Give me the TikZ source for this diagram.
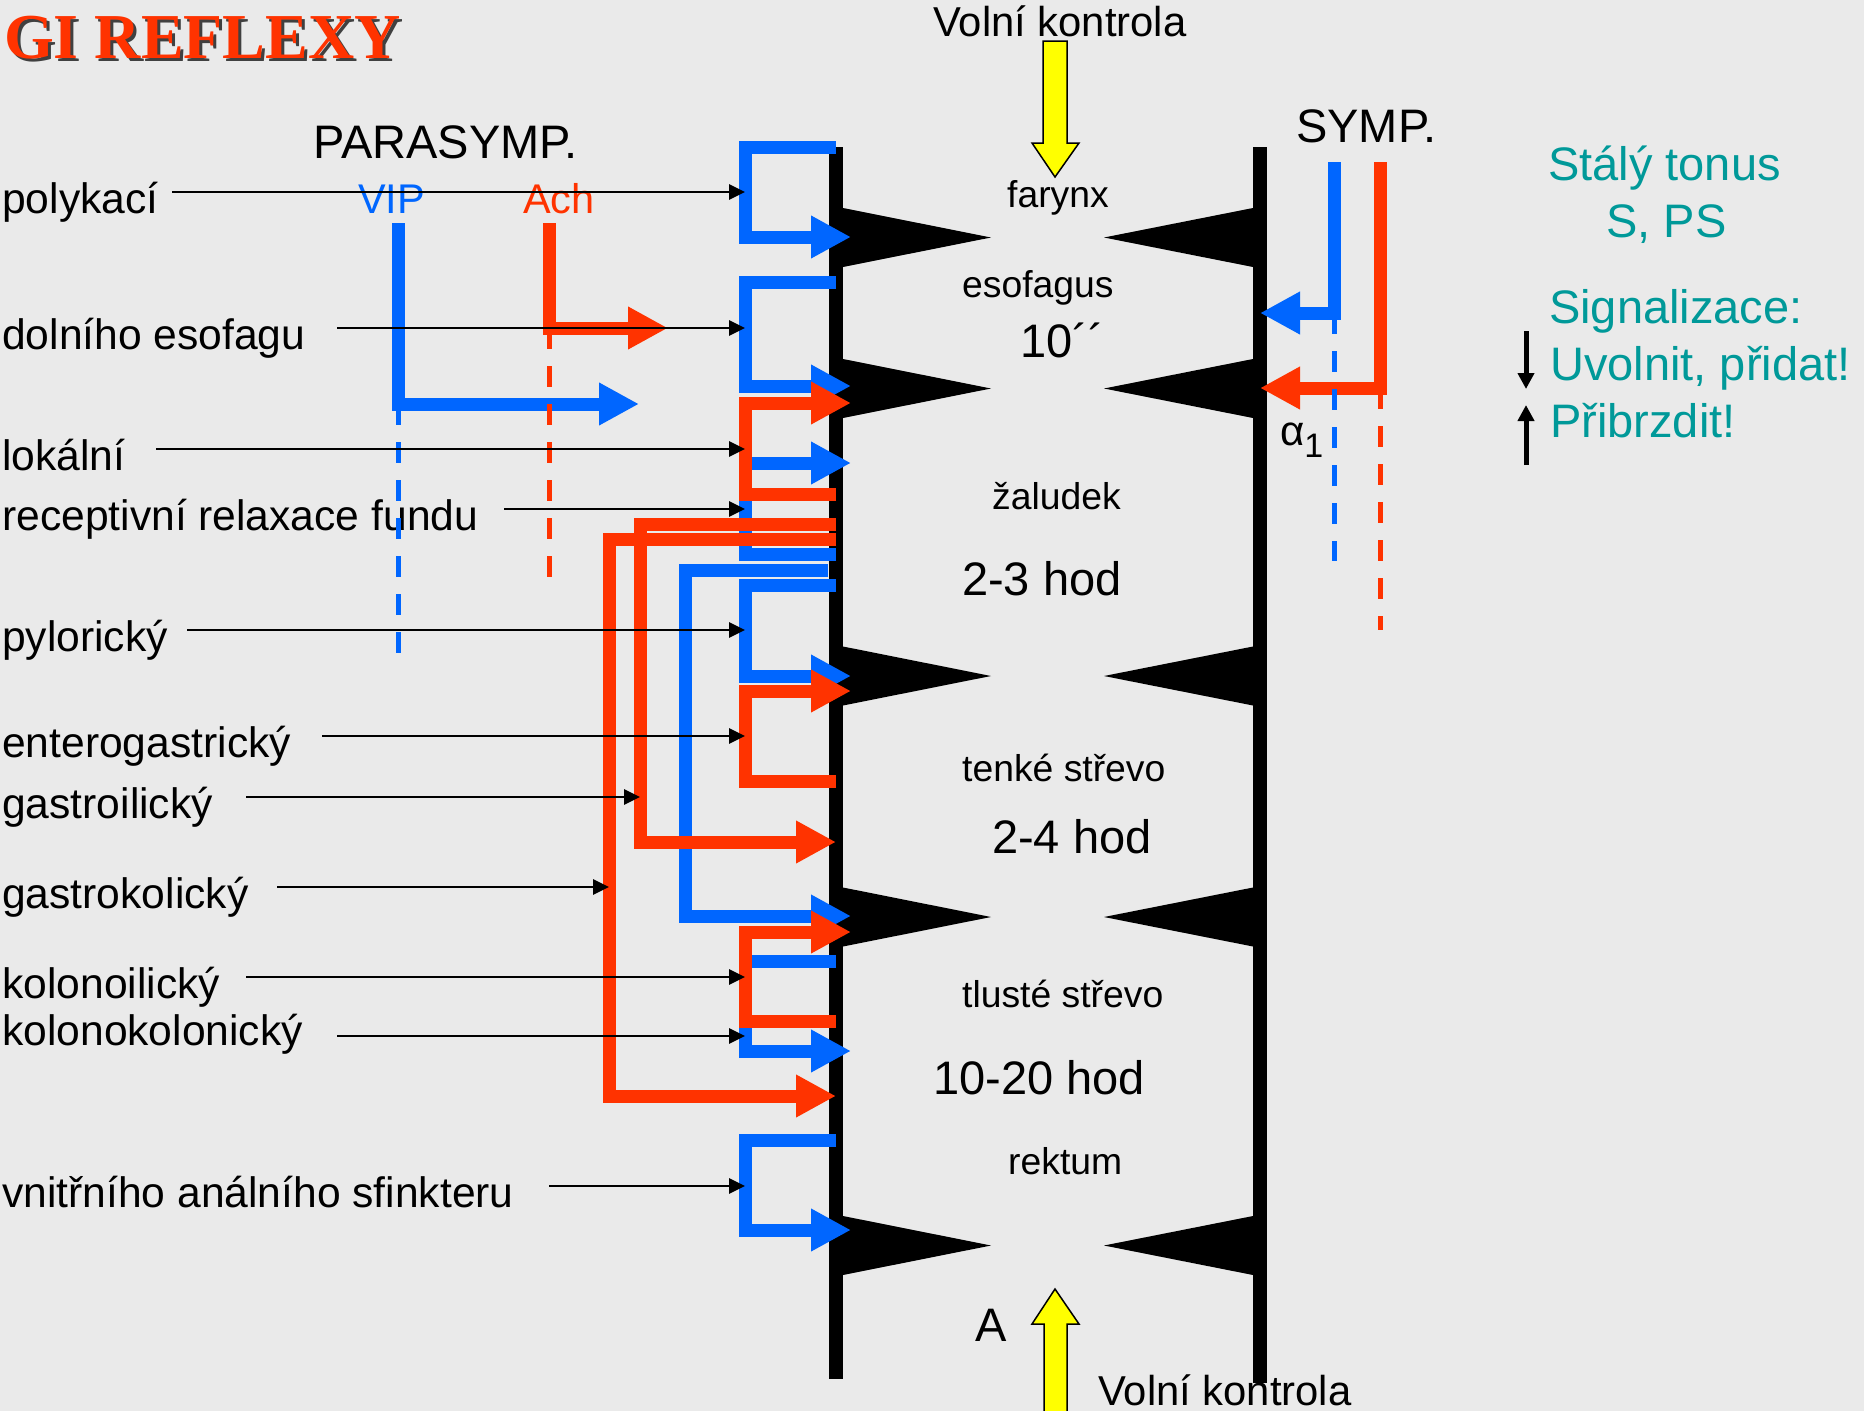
\documentclass[tikz,border=0pt]{standalone}
\usepackage{fontspec}
\setmainfont{Liberation Sans}
\newfontfamily\serifbf{Liberation Serif}
\usetikzlibrary{arrows.meta}
\definecolor{bg}{RGB}{234,234,234}
\definecolor{pblue}{RGB}{0,102,255}
\definecolor{pred}{RGB}{255,51,0}
\definecolor{tealc}{RGB}{0,153,153}
\definecolor{yel}{RGB}{255,255,0}
\begin{document}
\begin{tikzpicture}[x=1pt,y=-1pt,
  lbl/.style={anchor=base west,inner sep=0pt,font=\fontsize{42.6}{48}\selectfont},
  organ/.style={anchor=base west,inner sep=0pt,font=\fontsize{37.3}{44}\selectfont},
  tbig/.style={anchor=base west,inner sep=0pt,font=\fontsize{47}{52}\selectfont},
  teal/.style={anchor=base west,inner sep=0pt,text=tealc,font=\fontsize{47}{52}\selectfont},
  bl/.style={pblue,line width=13pt,line join=miter},
  rd/.style={pred,line width=13pt,line join=miter},
  big/.style={-{Triangle[length=40pt,width=40pt]}},
  ptr/.style={black,line width=2.7pt,-{Triangle[length=16pt,width=15pt]}},
  sig/.style={black,line width=5pt,-{Triangle[length=16pt,width=16pt]}},
  dsh/.style={line width=5pt,dash pattern=on 21pt off 17pt},
  yarrow/.style={fill=yel,draw=black,line width=1.5pt,line join=miter},
]
\fill[bg] (0,0) rectangle (1864,1411);
\useasboundingbox (0,0) rectangle (1864,1411);

% walls
\fill (829,147) rectangle (843,1379);
\fill (1253,147) rectangle (1267,1383);
\foreach \yc in {237.5,388.5,676,917,1245.5}{
  \fill (843,{\yc-29.5}) -- (991,\yc) -- (843,{\yc+29.5}) -- cycle;
  \fill (1253,{\yc-29.5}) -- (1104,\yc) -- (1253,{\yc+29.5}) -- cycle;
}

% title
\node[anchor=base west,inner sep=0pt,text=black!75,font=\serifbf\bfseries\fontsize{64}{70}\selectfont] (titsh) at (7,61) {GI REFLEXY};
\node[anchor=base west,inner sep=0pt,text=pred,font=\serifbf\bfseries\fontsize{64}{70}\selectfont] (tit) at (4,58) {GI REFLEXY};

% headers
\node[tbig] (para) at (313,158) {PARASYMP.};
\node[lbl,text=pblue,font=\fontsize{41.5}{48}\selectfont] (vip) at (358,213) {VIP};
\node[lbl,text=pred,font=\fontsize{41.5}{48}\selectfont] (ach) at (523,213) {Ach};
\node[tbig] (symp) at (1296,142) {SYMP.};
\node[lbl,font=\fontsize{41.8}{48}\selectfont] (vk1) at (933,36) {Volní kontrola};
\node[lbl,font=\fontsize{41.8}{48}\selectfont] (vk2) at (1098,1405) {Volní kontrola};
\node[tbig] (aa) at (975,1341) {A};
\node[anchor=base west,inner sep=0pt,font=\fontsize{42}{48}\selectfont] (alpha) at (1280,445) {α\raisebox{-12pt}{\fontsize{34}{40}\selectfont 1}};

% organ labels
\node[organ] (far) at (1007,207) {farynx};
\node[organ] (eso) at (962,297) {esofagus};
\node[tbig] (t1) at (1020,357) {10´´};
\node[organ] (zal) at (992,509) {žaludek};
\node[tbig] (t2) at (962,595) {2-3 hod};
\node[organ] (ten) at (962,781) {tenké střevo};
\node[tbig] (t3) at (992,853) {2-4 hod};
\node[organ] (tlu) at (962,1007) {tlusté střevo};
\node[tbig] (t4) at (933,1094) {10-20 hod};
\node[organ] (rek) at (1008,1174) {rektum};

% right teal text
\node[teal] (st1) at (1548,180) {Stálý tonus};
\node[teal] (st2) at (1606,237) {S, PS};
\node[teal] (sg1) at (1549,323) {Signalizace:};
\node[teal] (sg2) at (1550,380) {Uvolnit, přidat!};
\node[teal] (sg3) at (1550,437) {Přibrzdit!};

% reflex labels
\node[lbl] (l1) at (2,213) {polykací};
\node[lbl] (l2) at (2,349) {dolního esofagu};
\node[lbl] (l3) at (2,470) {lokální};
\node[lbl] (l4) at (2,530) {receptivní relaxace fundu};
\node[lbl] (l5) at (2,651) {pylorický};
\node[lbl] (l6) at (2,757) {enterogastrický};
\node[lbl] (l7) at (2,818) {gastroilický};
\node[lbl] (l8) at (2,908) {gastrokolický};
\node[lbl] (l9) at (2,998) {kolonoilický};
\node[lbl] (l10) at (2,1045) {kolonokolonický};
\node[lbl] (l11) at (2,1207) {vnitřního análního sfinkteru};

% yellow arrows
\draw[yarrow] (1043,41) -- (1067,41) -- (1067,143) -- (1079,143) -- (1055,177) -- (1032,143) -- (1043,143) -- cycle;
\draw[yarrow] (1044,1425) -- (1044,1324) -- (1032,1324) -- (1055,1289) -- (1079,1324) -- (1067,1324) -- (1067,1425) -- cycle;

% ---- blue loops
\coordinate (a1) at (836,147); \coordinate (a2) at (745,147); \coordinate (a3) at (745,237); \coordinate (a4) at (851,237);
\draw[bl,big] (a1) -- (a2) -- (a3) -- (a4);
\coordinate (b1) at (836,282); \coordinate (b2) at (745,282); \coordinate (b3) at (745,386); \coordinate (b4) at (851,386);
\draw[bl,big] (b1) -- (b2) -- (b3) -- (b4);
\coordinate (c1) at (836,554); \coordinate (c2) at (745,554); \coordinate (c3) at (745,463); \coordinate (c4) at (851,463);
\draw[bl,big] (c1) -- (c2) -- (c3) -- (c4);
\coordinate (g1) at (828,570); \coordinate (g2) at (685,570); \coordinate (g3) at (685,916); \coordinate (g4) at (851,916);
\draw[bl,big] (g1) -- (g2) -- (g3) -- (g4);
\coordinate (h1) at (836,585); \coordinate (h2) at (745,585); \coordinate (h3) at (745,676); \coordinate (h4) at (851,676);
\draw[bl,big] (h1) -- (h2) -- (h3) -- (h4);
\coordinate (k1) at (836,961); \coordinate (k2) at (745,961); \coordinate (k3) at (745,1051); \coordinate (k4) at (851,1051);
\draw[bl,big] (k1) -- (k2) -- (k3) -- (k4);
\coordinate (m1) at (836,1140); \coordinate (m2) at (745,1140); \coordinate (m3) at (745,1230); \coordinate (m4) at (851,1230);
\draw[bl,big] (m1) -- (m2) -- (m3) -- (m4);

% ---- red loops
\coordinate (d1) at (836,494); \coordinate (d2) at (745,494); \coordinate (d3) at (745,403); \coordinate (d4) at (851,403);
\draw[rd,big] (d1) -- (d2) -- (d3) -- (d4);
\coordinate (e1) at (836,524); \coordinate (e2) at (640,524); \coordinate (e3) at (640,842); \coordinate (e4) at (836,842);
\draw[rd,big] (e1) -- (e2) -- (e3) -- (e4);
\coordinate (f1) at (836,539); \coordinate (f2) at (609,539); \coordinate (f3) at (609,1096); \coordinate (f4) at (836,1096);
\draw[rd,big] (f1) -- (f2) -- (f3) -- (f4);
\coordinate (i1) at (836,781); \coordinate (i2) at (745,781); \coordinate (i3) at (745,691); \coordinate (i4) at (851,691);
\draw[rd,big] (i1) -- (i2) -- (i3) -- (i4);
\coordinate (j1) at (836,1021); \coordinate (j2) at (745,1021); \coordinate (j3) at (745,932); \coordinate (j4) at (851,932);
\draw[rd,big] (j1) -- (j2) -- (j3) -- (j4);

% ---- parasympathetic
\coordinate (v1) at (398,223); \coordinate (v2) at (398,404); \coordinate (v3) at (639,404); \coordinate (v4) at (398,668);
\draw[bl,big] (v1) -- (v2) -- (v3);
\coordinate (r1) at (549,223); \coordinate (r2) at (549,328); \coordinate (r3) at (668,328); \coordinate (r4) at (549,585);
\draw[rd,big] (r1) -- (r2) -- (r3);
\draw[dsh,pblue] (v2) -- (v4);
\draw[dsh,pred] (r2) -- (r4);

% ---- sympathetic
\coordinate (sb1) at (1334,162); \coordinate (sb2) at (1334,313); \coordinate (sb3) at (1260,313); \coordinate (sb4) at (1334,561);
\draw[bl,big] (sb1) -- (sb2) -- (sb3);
\coordinate (sr1) at (1380,162); \coordinate (sr2) at (1380,388); \coordinate (sr3) at (1260,388); \coordinate (sr4) at (1380,630);
\draw[rd,big] (sr1) -- (sr2) -- (sr3);
\draw[dsh,pblue] (sb2) -- (sb4);
\draw[dsh,pred] (sr2) -- (sr4);

% signal arrows
\coordinate (dn1) at (1526,331); \coordinate (dn2) at (1526,389);
\coordinate (up1) at (1526,465); \coordinate (up2) at (1526,405);
\draw[sig] (dn1) -- (dn2);
\draw[sig] (up1) -- (up2);

% ---- black pointers
\coordinate (p1s) at (172,192); \coordinate (p1e) at (745,192);
\coordinate (p2s) at (337,328); \coordinate (p2e) at (745,328);
\coordinate (p3s) at (156,449); \coordinate (p3e) at (745,449);
\coordinate (p4s) at (504,509); \coordinate (p4e) at (745,509);
\coordinate (p5s) at (187,630); \coordinate (p5e) at (745,630);
\coordinate (p6s) at (322,736); \coordinate (p6e) at (745,736);
\coordinate (p7s) at (246,797); \coordinate (p7e) at (640,797);
\coordinate (p8s) at (277,887); \coordinate (p8e) at (609,887);
\coordinate (p9s) at (246,977); \coordinate (p9e) at (745,977);
\coordinate (p10s) at (337,1036); \coordinate (p10e) at (745,1036);
\coordinate (p11s) at (549,1186); \coordinate (p11e) at (745,1186);
\foreach \n in {1,...,11}{ \draw[ptr] (p\n s) -- (p\n e); }
\end{tikzpicture}
\end{document}
